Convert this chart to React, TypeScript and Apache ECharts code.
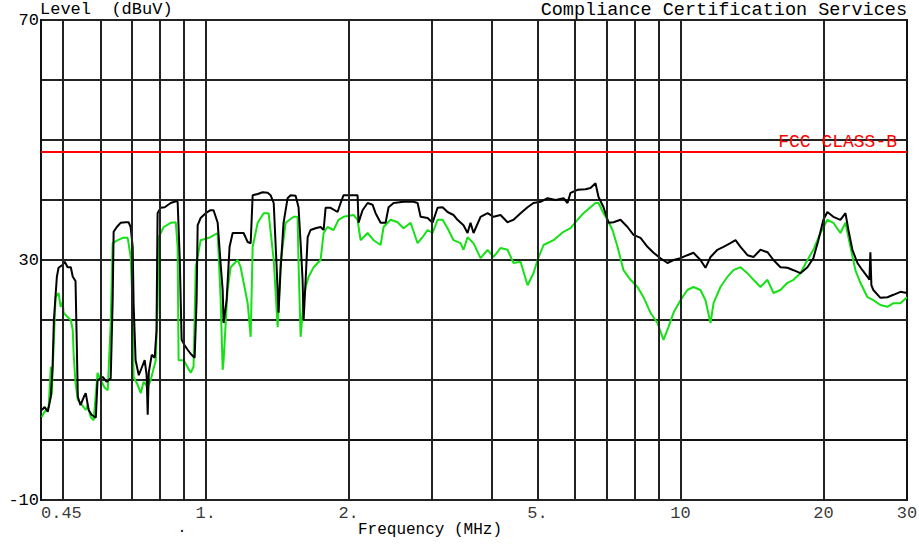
import React, { useEffect, useRef } from 'react';
import * as echarts from 'echarts';

// Peak trace (black), frequency in MHz and level in dBuV
const freqBlack = [
  0.452, 0.458, 0.465, 0.472, 0.476, 0.479, 0.486, 0.490, 0.500, 0.505,
  0.512, 0.520, 0.525, 0.532, 0.538, 0.545, 0.554, 0.559, 0.567, 0.575,
  0.587, 0.592, 0.607, 0.619, 0.631, 0.637, 0.640, 0.650, 0.662, 0.679,
  0.688, 0.695, 0.702, 0.705, 0.712, 0.723, 0.733, 0.744, 0.751, 0.755,
  0.759, 0.770, 0.781, 0.788, 0.792, 0.804, 0.820, 0.844, 0.865, 0.873,
  0.882, 0.890, 0.903, 0.917, 0.934, 0.948, 0.957, 0.962, 0.976, 1.000,
  1.024, 1.039, 1.060, 1.075, 1.086, 1.091, 1.107, 1.123, 1.140, 1.168,
  1.202, 1.226, 1.244, 1.256, 1.287, 1.318, 1.351, 1.370, 1.391, 1.411,
  1.424, 1.438, 1.459, 1.488, 1.510, 1.547, 1.569, 1.585, 1.600, 1.608,
  1.624, 1.640, 1.663, 1.704, 1.746, 1.772, 1.789, 1.833, 1.896, 1.924,
  1.952, 2.020, 2.089, 2.099, 2.140, 2.193, 2.247, 2.280, 2.336, 2.393,
  2.428, 2.488, 2.611, 2.741, 2.795, 2.836, 2.934, 3.006, 3.020, 3.079,
  3.155, 3.232, 3.327, 3.392, 3.492, 3.561, 3.613, 3.666, 3.793, 3.924,
  4.040, 4.179, 4.323, 4.451, 4.605, 4.764, 4.904, 5.074, 5.248, 5.457,
  5.672, 5.783, 5.868, 6.069, 6.310, 6.464, 6.623, 6.721, 6.886, 7.054,
  7.227, 7.477, 7.735, 7.964, 8.239, 8.522, 8.775, 9.077, 9.389, 9.667,
  10.0, 10.34, 10.65, 11.02, 11.29, 11.57, 11.96, 12.32, 12.74, 13.06,
  13.38, 13.84, 14.25, 14.74, 15.25, 15.70, 16.24, 16.80, 17.30, 17.89,
  18.51, 19.05, 19.52, 20.00, 20.39, 20.99, 21.72, 22.26, 22.58, 23.02,
  23.59, 24.17, 24.77, 25.00, 25.12, 25.24, 25.48, 26.37, 27.29, 28.09,
  29.06, 30.0,
];
const levelBlack = [
  5.0, 5.5, 4.7, 7.2, 12.2, 20.0, 27.2, 28.7, 29.2, 29.7,
  28.8, 28.8, 27.2, 26.5, 7.2, 5.8, 7.2, 7.8, 5.0, 4.2,
  3.7, 10.0, 10.5, 9.7, 10.3, 23.3, 34.7, 35.5, 36.2, 36.3,
  36.3, 35.5, 32.2, 22.8, 13.3, 10.8, 12.0, 13.3, 10.8, 4.2,
  11.3, 14.2, 13.7, 18.3, 37.8, 38.7, 38.8, 39.5, 39.8, 39.7,
  30.0, 16.7, 15.8, 15.0, 14.2, 13.7, 23.3, 35.8, 37.0, 37.8,
  38.3, 38.3, 36.2, 29.5, 25.0, 19.5, 23.3, 32.2, 34.5, 34.5,
  34.5, 33.0, 32.8, 40.8, 41.0, 41.3, 41.2, 40.8, 39.5, 28.8,
  21.2, 28.3, 36.2, 40.3, 40.8, 40.7, 38.8, 32.8, 26.7, 20.0,
  26.7, 33.8, 35.0, 35.3, 35.5, 35.0, 38.7, 38.7, 38.0, 39.5,
  40.8, 40.8, 40.8, 36.2, 38.3, 39.5, 39.2, 37.8, 36.2, 36.2,
  38.8, 39.5, 39.7, 39.7, 39.5, 37.2, 37.0, 36.2, 36.7, 38.7,
  38.8, 38.0, 37.5, 36.7, 35.8, 34.5, 36.2, 34.5, 37.2, 37.8,
  37.2, 37.5, 36.3, 36.7, 37.8, 38.8, 39.5, 39.7, 40.3, 40.0,
  40.3, 39.5, 41.2, 41.7, 41.8, 42.0, 42.8, 40.5, 38.8, 36.2,
  36.3, 36.7, 35.5, 34.2, 33.7, 32.2, 31.2, 30.3, 29.5, 30.0,
  30.3, 30.8, 31.2, 30.0, 28.7, 30.5, 31.7, 32.2, 32.8, 33.3,
  32.2, 30.8, 30.5, 31.7, 31.3, 30.0, 28.8, 28.7, 28.3, 27.8,
  28.8, 30.3, 33.3, 36.7, 38.0, 37.2, 36.7, 37.8, 35.0, 31.7,
  29.5, 28.3, 27.2, 26.7, 31.3, 25.8, 25.0, 23.7, 23.8, 24.2,
  24.7, 24.5,
];

// Average trace (green)
const freqGreen = [
  0.452, 0.456, 0.467, 0.472, 0.474, 0.479, 0.483, 0.490, 0.495, 0.500,
  0.502, 0.512, 0.520, 0.525, 0.527, 0.532, 0.538, 0.545, 0.559, 0.564,
  0.573, 0.581, 0.592, 0.601, 0.613, 0.622, 0.631, 0.637, 0.653, 0.669,
  0.685, 0.688, 0.695, 0.702, 0.705, 0.719, 0.730, 0.740, 0.755, 0.766,
  0.773, 0.785, 0.792, 0.796, 0.816, 0.844, 0.865, 0.873, 0.877, 0.899,
  0.930, 0.943, 0.953, 0.976, 1.024, 1.060, 1.075, 1.086, 1.091, 1.112,
  1.129, 1.168, 1.185, 1.226, 1.244, 1.256, 1.287, 1.325, 1.357, 1.391,
  1.418, 1.438, 1.474, 1.532, 1.562, 1.569, 1.585, 1.608, 1.624, 1.648,
  1.688, 1.746, 1.772, 1.806, 1.860, 1.905, 1.952, 2.049, 2.089, 2.120,
  2.193, 2.258, 2.336, 2.370, 2.452, 2.536, 2.611, 2.702, 2.795, 2.863,
  2.934, 3.006, 3.079, 3.155, 3.232, 3.327, 3.442, 3.492, 3.561, 3.666,
  3.793, 3.924, 4.040, 4.179, 4.323, 4.451, 4.605, 4.764, 4.904, 5.000,
  5.148, 5.403, 5.672, 5.868, 6.069, 6.249, 6.464, 6.623, 6.721, 6.886,
  7.020, 7.192, 7.369, 7.586, 7.848, 8.120, 8.360, 8.648, 8.945, 9.210,
  9.434, 9.667, 10.0, 10.34, 10.65, 11.02, 11.29, 11.57, 11.74, 12.14,
  12.56, 12.93, 13.38, 13.84, 14.25, 14.74, 15.25, 15.70, 16.24, 16.80,
  17.30, 17.89, 18.51, 19.05, 19.72, 20.39, 20.99, 21.72, 22.26, 22.80,
  23.36, 23.93, 24.77, 25.48, 26.37, 27.29, 28.09, 29.06, 30.0,
];
const levelGreen = [
  3.8, 4.5, 5.5, 12.2, 7.5, 16.7, 23.8, 24.5, 22.2, 23.0,
  21.2, 20.5, 20.0, 18.3, 14.5, 9.5, 6.7, 6.2, 5.0, 5.8,
  3.8, 3.3, 11.2, 10.0, 8.7, 8.3, 19.5, 32.8, 33.3, 33.7,
  33.7, 32.8, 30.5, 22.2, 10.5, 9.2, 7.8, 9.7, 8.8, 10.0,
  11.2, 13.3, 22.2, 33.8, 35.5, 36.2, 36.3, 32.2, 13.3, 13.3,
  11.2, 12.2, 28.8, 33.3, 33.8, 34.5, 23.8, 11.7, 13.3, 25.0,
  28.8, 30.0, 28.8, 22.8, 17.2, 32.2, 36.2, 37.8, 37.8, 30.0,
  18.8, 29.5, 36.2, 37.2, 37.2, 29.5, 17.2, 23.3, 25.5, 27.2,
  28.8, 30.0, 34.5, 35.5, 35.0, 36.7, 37.2, 37.5, 36.7, 33.3,
  34.5, 33.3, 32.5, 35.5, 36.7, 36.3, 35.3, 36.2, 32.8, 33.8,
  35.0, 34.5, 36.7, 36.7, 35.3, 33.3, 32.8, 31.7, 33.8, 32.8,
  30.3, 31.7, 30.5, 32.0, 31.7, 29.5, 29.7, 25.8, 27.8, 30.0,
  32.5, 33.3, 34.7, 35.3, 36.7, 37.8, 38.8, 39.5, 39.5, 37.8,
  36.7, 35.0, 32.2, 28.3, 26.7, 25.5, 23.8, 21.2, 19.5, 16.7,
  18.8, 21.2, 23.3, 25.0, 25.5, 25.0, 23.3, 19.5, 22.8, 25.5,
  27.2, 28.3, 28.8, 27.8, 26.7, 25.5, 26.7, 24.5, 25.0, 26.2,
  26.7, 27.8, 30.0, 31.7, 34.5, 36.7, 36.2, 34.5, 36.2, 32.2,
  28.3, 26.2, 23.8, 23.3, 22.5, 22.2, 22.8, 22.8, 23.8,
];

const gridFreqs = [0.5, 0.6, 0.7, 0.8, 0.9, 1, 2, 3, 4, 5, 6, 7, 8, 9, 10, 20];
const tickFreqs = [0.45, 1, 2, 5, 10, 20, 30];
const tickLabels = ['0.45', '1.', '2.', '5.', '10', '20', '30'];
const yLabelValues = [70, 30, -10];
const limitLevel = 48;
const limitName = 'FCC CLASS-B';

const FONT = '"Liberation Mono", "DejaVu Sans Mono", monospace';

export default function App() {
  const ref = useRef<HTMLDivElement>(null);
  useEffect(() => {
    if (!ref.current) return;
    const chart = echarts.init(ref.current, null, { renderer: 'svg' });
    const black = freqBlack.map((f, i) => [f, levelBlack[i]]);
    const green = freqGreen.map((f, i) => [f, levelGreen[i]]);
    chart.setOption({
      animation: false,
      backgroundColor: '#ffffff',
      grid: {
        left: 41, right: 12, top: 20, bottom: 44,
        show: true, borderColor: '#111', borderWidth: 2,
      },
      xAxis: {
        type: 'log', logBase: 10, min: 0.45, max: 30,
        axisLabel: { show: false },
        axisTick: { show: false },
        splitLine: { show: false },
        axisLine: { show: true, lineStyle: { color: '#111', width: 2 } },
      },
      yAxis: {
        type: 'value', min: -10, max: 70, interval: 10,
        axisLine: { show: true, lineStyle: { color: '#111', width: 2 } },
        axisTick: { show: false },
        splitLine: { show: true, lineStyle: { color: '#222', width: 2 } },
        axisLabel: {
          formatter: (v: number) => (yLabelValues.includes(v) ? String(v) : ''),
          color: '#000', fontFamily: FONT, fontSize: 17, margin: 2,
        },
      },
      series: [
        {
          type: 'line', data: [], z: 1, silent: true,
          markLine: {
            silent: true, symbol: ['none', 'none'], animation: false,
            label: { show: false },
            emphasis: { disabled: true },
            lineStyle: { color: '#222', width: 2, type: 'solid' },
            data: gridFreqs.map((f) => ({ xAxis: f })),
          },
        },
        {
          type: 'line', data: [], z: 2, silent: true,
          markLine: {
            silent: true, symbol: ['none', 'none'], animation: false,
            emphasis: { disabled: true },
            lineStyle: { color: '#ff0000', width: 2, type: 'solid' },
            label: {
              show: true, position: 'insideEndTop', formatter: limitName,
              color: '#ff0000', fontFamily: FONT, fontSize: 18, distance: [10, 1],
            },
            data: [{ yAxis: limitLevel }],
          },
        },
        {
          type: 'line', data: green, showSymbol: false, z: 3, silent: true,
          lineStyle: { color: '#16e016', width: 2 },
        },
        {
          type: 'line', data: black, showSymbol: false, z: 4, silent: true,
          lineStyle: { color: '#000000', width: 2 },
        },
        {
          type: 'scatter', silent: true, clip: false, symbolSize: 1, z: 5,
          itemStyle: { color: 'rgba(0,0,0,0)' },
          label: {
            show: true, position: 'bottom', distance: 4,
            color: '#000', fontFamily: FONT, fontSize: 17,
            formatter: (p: any) => tickLabels[p.dataIndex],
          },
          data: tickFreqs.map((f, i) => ({
            value: [f, -10],
            label: i === 0 ? { align: 'left' } : undefined,
          })),
        },
      ],
      graphic: [
        {
          type: 'text', left: 40, top: 1,
          style: { text: 'Level  (dBuV)', font: `17px ${FONT}`, fill: '#000' },
        },
        {
          type: 'text', right: 12, top: 1,
          style: { text: 'Compliance Certification Services', font: `18.5px ${FONT}`, fill: '#000' },
        },
        {
          type: 'text', x: 430, y: 530,
          style: { text: 'Frequency (MHz)', font: `16px ${FONT}`, fill: '#000', textAlign: 'center', textVerticalAlign: 'middle' },
        },
        {
          type: 'text', x: 182, y: 528,
          style: { text: '.', font: `14px ${FONT}`, fill: '#000', textAlign: 'center', textVerticalAlign: 'middle' },
        },
      ],
    });
    return () => chart.dispose();
  }, []);
  return (
    <div
      ref={ref}
      style={{ position: 'fixed', left: 0, top: 0, width: 919, height: 544, background: '#fff' }}
    />
  );
}
